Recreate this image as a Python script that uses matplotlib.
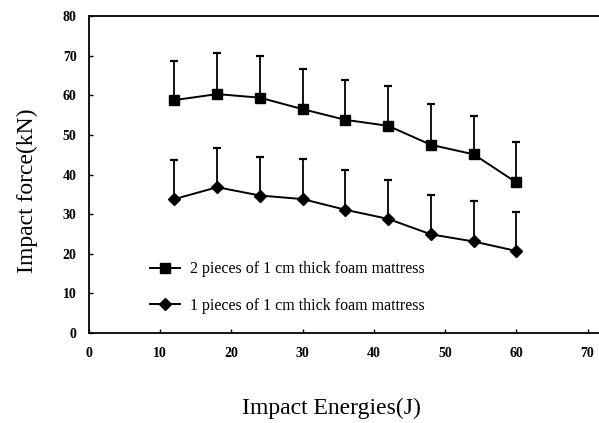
import numpy as np
import matplotlib
matplotlib.use("Agg")
from matplotlib import pyplot as plt
from matplotlib.lines import Line2D

# impact energies (J)
energy = [12, 18, 24, 30, 36, 42, 48, 54, 60]
# 2 pieces of 1 cm foam
force2 = [58.8, 60.3, 59.4, 56.5, 53.8, 52.3, 47.5, 45.1, 38.0]
err2 = [9.9, 10.3, 10.4, 10.1, 10.1, 10.1, 10.3, 9.8, 10.2]
# 1 piece of 1 cm foam
force1 = [33.8, 36.8, 34.7, 33.8, 31.1, 28.8, 24.9, 23.1, 20.7]
err1 = [9.9, 9.9, 9.8, 10.2, 10.1, 9.8, 9.9, 10.1, 9.9]

labels = ['2 pieces of 1 cm thick foam mattress', '1 pieces of 1 cm thick foam mattress']
xticks = [0, 10, 20, 30, 40, 50, 60, 70]
yticks = [0, 10, 20, 30, 40, 50, 60, 70, 80]

plt.rcParams['font.family'] = ['Liberation Serif', 'DejaVu Serif']

fig = plt.figure(figsize=(5.99, 4.23), dpi=100)
ax = fig.add_axes([0.1486, 0.2128, 0.8514, 0.7492])

ax.errorbar(energy, force2, yerr=[np.zeros(len(err2)), err2], fmt='s-', color='black',
            markersize=6.5, linewidth=1.4, elinewidth=1.3, capsize=3, capthick=1.6)
ax.errorbar(energy, force1, yerr=[np.zeros(len(err1)), err1], fmt='D-', color='black',
            markersize=6.5, linewidth=1.4, elinewidth=1.3, capsize=3, capthick=1.6)

ax.set_xlim(0, 71.6)
ax.set_ylim(0, 80)
ax.set_xticks(xticks)
ax.set_yticks(yticks)
ax.tick_params(direction='in', length=3, width=1)
ax.tick_params(axis='y', pad=9)
ax.tick_params(axis='x', pad=10)
for lab in ax.get_xticklabels() + ax.get_yticklabels():
    lab.set_fontsize(10)
    lab.set_fontweight('bold')
ax.spines['right'].set_visible(False)
for s in ['left', 'top', 'bottom']:
    ax.spines[s].set_linewidth(1.3)

ax.set_xlabel('Impact Energies(J)', fontsize=17)
ax.xaxis.set_label_coords(0.475, -0.205)
ax.set_ylabel('Impact force(kN)', fontsize=17)
ax.yaxis.set_label_coords(-0.1, 0.45)

handles = [Line2D([], [], color='black', marker='s', markersize=6.5, linewidth=1.4),
           Line2D([], [], color='black', marker='D', markersize=6.5, linewidth=1.4)]
ax.legend(handles, labels, loc='center left', bbox_to_anchor=(0.119, 0.1435), frameon=False,
          fontsize=11.5, handlelength=1.9, handletextpad=0.6, labelspacing=1.3,
          borderpad=0, borderaxespad=0)

fig.savefig('out.png', dpi=100)
